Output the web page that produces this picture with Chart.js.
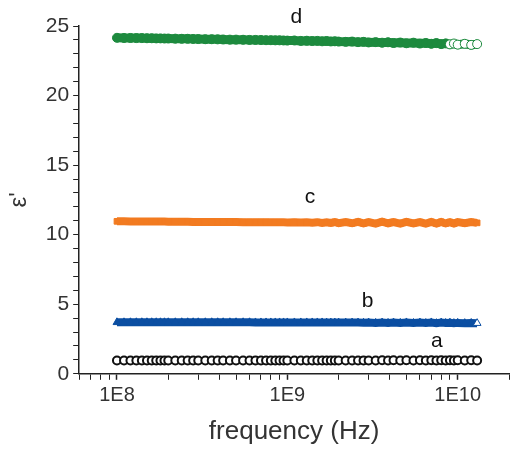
<!DOCTYPE html>
<html>
<head>
<meta charset="utf-8">
<script src="https://cdn.jsdelivr.net/npm/chart.js@4.4.1/dist/chart.umd.min.js"></script>
<style>
  html, body { margin: 0; padding: 0; background: #fff; }
  #wrap { width: 515px; height: 451px; position: relative; }
</style>
</head>
<body>
<div id="wrap"><canvas id="chart"></canvas></div>
<script>
// frequency sweep (Hz)
const freqs = [
  1.0e8, 1.1e8, 1.2e8, 1.3e8, 1.4e8, 1.5e8, 1.6e8, 1.7e8, 1.8e8, 1.9e8, 2.0e8, 2.2e8, 2.4e8, 2.6e8, 2.8e8, 3.0e8,
  3.3e8, 3.6e8, 3.9e8, 4.2e8, 4.6e8, 5.0e8, 5.5e8, 6.0e8, 6.5e8, 7.0e8, 7.5e8, 8.0e8, 8.5e8, 9.0e8, 9.5e8,
  1.0e9, 1.1e9, 1.2e9, 1.3e9, 1.4e9, 1.5e9, 1.6e9, 1.7e9, 1.8e9, 1.9e9, 2.0e9, 2.2e9, 2.4e9, 2.6e9, 2.8e9, 3.0e9,
  3.3e9, 3.6e9, 3.9e9, 4.2e9, 4.6e9, 5.0e9, 5.5e9, 6.0e9, 6.5e9, 7.0e9, 7.5e9, 8.0e9, 8.5e9, 9.0e9, 9.5e9,
  1.0e10, 1.1e10, 1.2e10, 1.3e10
];

const seriesA = [
  0.95, 0.95, 0.95, 0.95, 0.95, 0.95, 0.95, 0.95, 0.95, 0.95, 0.95, 0.95, 0.95, 0.95, 0.95, 0.95,
  0.95, 0.95, 0.95, 0.95, 0.95, 0.95, 0.95, 0.95, 0.95, 0.95, 0.95, 0.95, 0.95, 0.95, 0.95,
  0.95, 0.96, 0.95, 0.96, 0.95, 0.96, 0.95, 0.96, 0.95, 0.96, 0.95, 0.96, 0.95, 0.96, 0.95, 0.96,
  0.95, 0.97, 0.95, 0.97, 0.95, 0.97, 0.95, 0.97, 0.95, 0.97, 0.95, 0.97, 0.95, 0.97, 0.95,
  0.97, 0.95, 0.97, 0.96
];

const seriesB = [
  3.70, 3.70, 3.70, 3.70, 3.70, 3.70, 3.70, 3.70, 3.70, 3.70, 3.70, 3.70, 3.70, 3.70, 3.70, 3.70,
  3.70, 3.70, 3.70, 3.70, 3.70, 3.70, 3.70, 3.70, 3.69, 3.69, 3.69, 3.69, 3.69, 3.69, 3.69,
  3.69, 3.69, 3.69, 3.69, 3.69, 3.69, 3.69, 3.68, 3.68, 3.68, 3.68, 3.68, 3.68, 3.68, 3.67, 3.68,
  3.66, 3.68, 3.66, 3.68, 3.66, 3.69, 3.65, 3.68, 3.65, 3.69, 3.64, 3.68, 3.65, 3.67, 3.64,
  3.66, 3.64, 3.65, 3.64
];

const seriesC = [
  10.96, 10.96, 10.95, 10.95, 10.95, 10.95, 10.94, 10.94, 10.94, 10.94, 10.93, 10.93, 10.93, 10.93, 10.92, 10.92,
  10.92, 10.92, 10.91, 10.91, 10.91, 10.91, 10.90, 10.90, 10.90, 10.90, 10.90, 10.89, 10.89, 10.89, 10.89,
  10.88, 10.90, 10.87, 10.89, 10.86, 10.90, 10.85, 10.89, 10.84, 10.91, 10.83, 10.90, 10.82, 10.92, 10.81, 10.90,
  10.80, 10.93, 10.82, 10.91, 10.80, 10.92, 10.81, 10.90, 10.79, 10.91, 10.80, 10.92, 10.81, 10.90, 10.80,
  10.90, 10.82, 10.91, 10.85
];

const seriesD = [
  24.15, 24.14, 24.14, 24.13, 24.13, 24.12, 24.12, 24.11, 24.11, 24.10, 24.10, 24.09, 24.08, 24.08, 24.07, 24.06,
  24.05, 24.05, 24.04, 24.03, 24.02, 24.02, 24.01, 24.00, 24.00, 23.99, 23.98, 23.98, 23.97, 23.97, 23.96,
  23.95, 23.96, 23.93, 23.94, 23.92, 23.93, 23.90, 23.92, 23.89, 23.90, 23.88, 23.86, 23.88, 23.84, 23.86, 23.82,
  23.84, 23.80, 23.83, 23.78, 23.81, 23.76, 23.80, 23.74, 23.78, 23.72, 23.77, 23.70, 23.75, 23.68, 23.74,
  23.66, 23.72, 23.64, 23.70
];

// x axis ticks (log scale), only decades get a label
const xTicks = [6e7, 7e7, 8e7, 9e7, 1e8, 2e8, 3e8, 4e8, 5e8, 6e8, 7e8, 8e8, 9e8,
  1e9, 2e9, 3e9, 4e9, 5e9, 6e9, 7e9, 8e9, 9e9, 1e10, 2e10];
const xLabels = { 1e8: '1E8', 1e9: '1E9', 1e10: '1E10' };

// curve letters
const curveLabels = [
  { text: 'a', x: 7.55e9, y: 2.35 },
  { text: 'b', x: 2.96e9, y: 5.2 },
  { text: 'c', x: 1.36e9, y: 12.7 },
  { text: 'd', x: 1.13e9, y: 25.6 }
];

function toPoints(values) {
  return values.map((v, i) => ({ x: freqs[i], y: v }));
}

const colors = {
  a: '#111111',
  b: '#0b4ea2',
  c: '#f27b21',
  d: '#1d8a3e'
};

const font = '"Liberation Sans", Arial, sans-serif';

const letterPlugin = {
  id: 'letters',
  afterDatasetsDraw(chart) {
    const { ctx, scales } = chart;
    ctx.save();
    ctx.font = '21px ' + font;
    ctx.fillStyle = '#111';
    ctx.textAlign = 'center';
    ctx.textBaseline = 'middle';
    curveLabels.forEach(l => {
      ctx.fillText(l.text, scales.x.getPixelForValue(l.x), scales.y.getPixelForValue(l.y));
    });
    ctx.restore();
  }
};

const lastOpen = (fill, from) => c => (c.dataIndex >= from ? '#ffffff' : fill);

new Chart(document.getElementById('chart'), {
  type: 'scatter',
  data: {
    datasets: [
      {
        label: 'd',
        data: toPoints(seriesD),
        showLine: true,
        borderColor: colors.d,
        borderWidth: 9,
        pointStyle: 'circle',
        pointRadius: 4.5,
        pointBorderWidth: 1,
        pointBorderColor: colors.d,
        pointBackgroundColor: lastOpen(colors.d, 60)
      },
      {
        label: 'c',
        data: toPoints(seriesC),
        showLine: true,
        borderColor: colors.c,
        borderWidth: 8,
        pointStyle: 'rect',
        pointRadius: 4,
        pointBorderWidth: 1,
        pointBorderColor: colors.c,
        pointBackgroundColor: colors.c
      },
      {
        label: 'b',
        data: toPoints(seriesB),
        showLine: true,
        borderColor: colors.b,
        borderWidth: 8,
        pointStyle: 'triangle',
        pointRadius: 4.5,
        pointBorderWidth: 1,
        pointBorderColor: colors.b,
        pointBackgroundColor: lastOpen(colors.b, 65)
      },
      {
        label: 'a',
        data: toPoints(seriesA),
        showLine: false,
        pointStyle: 'circle',
        pointRadius: 4,
        pointBorderWidth: 2,
        pointBorderColor: colors.a,
        pointBackgroundColor: '#ffffff'
      }
    ]
  },
  options: {
    responsive: true,
    maintainAspectRatio: false,
    animation: false,
    layout: { padding: { top: 26, right: 0, bottom: 2, left: 5 } },
    plugins: {
      legend: { display: false },
      tooltip: { enabled: false }
    },
    scales: {
      x: {
        type: 'logarithmic',
        min: 6e7,
        max: 2e10,
        afterBuildTicks: axis => { axis.ticks = xTicks.map(v => ({ value: v })); },
        ticks: {
          autoSkip: false,
          maxRotation: 0,
          padding: 4,
          color: '#333',
          font: { family: font, size: 20 },
          callback: v => xLabels[v] || ''
        },
        grid: {
          drawOnChartArea: false,
          drawTicks: true,
          tickLength: 6,
          tickColor: '#222',
          tickWidth: c => (xLabels[c.tick && c.tick.value] ? 1.5 : 1)
        },
        border: { display: true, color: '#222', width: 1.5 },
        title: {
          display: true,
          text: 'frequency (Hz)',
          color: '#333',
          padding: { top: 4, bottom: 2 },
          font: { family: font, size: 26 }
        }
      },
      y: {
        min: 0,
        max: 25,
        ticks: {
          stepSize: 1,
          autoSkip: false,
          padding: 4,
          color: '#333',
          font: { family: font, size: 21 },
          callback: v => (v % 5 === 0 ? String(v) : '')
        },
        grid: {
          drawOnChartArea: false,
          drawTicks: true,
          tickLength: 6,
          tickColor: '#222'
        },
        border: { display: true, color: '#222', width: 1.5 },
        title: {
          display: true,
          text: "ε'",
          color: '#333',
          padding: { top: 0, bottom: 8 },
          font: { family: font, size: 24 }
        }
      }
    }
  },
  plugins: [letterPlugin]
});
</script>
</body>
</html>
